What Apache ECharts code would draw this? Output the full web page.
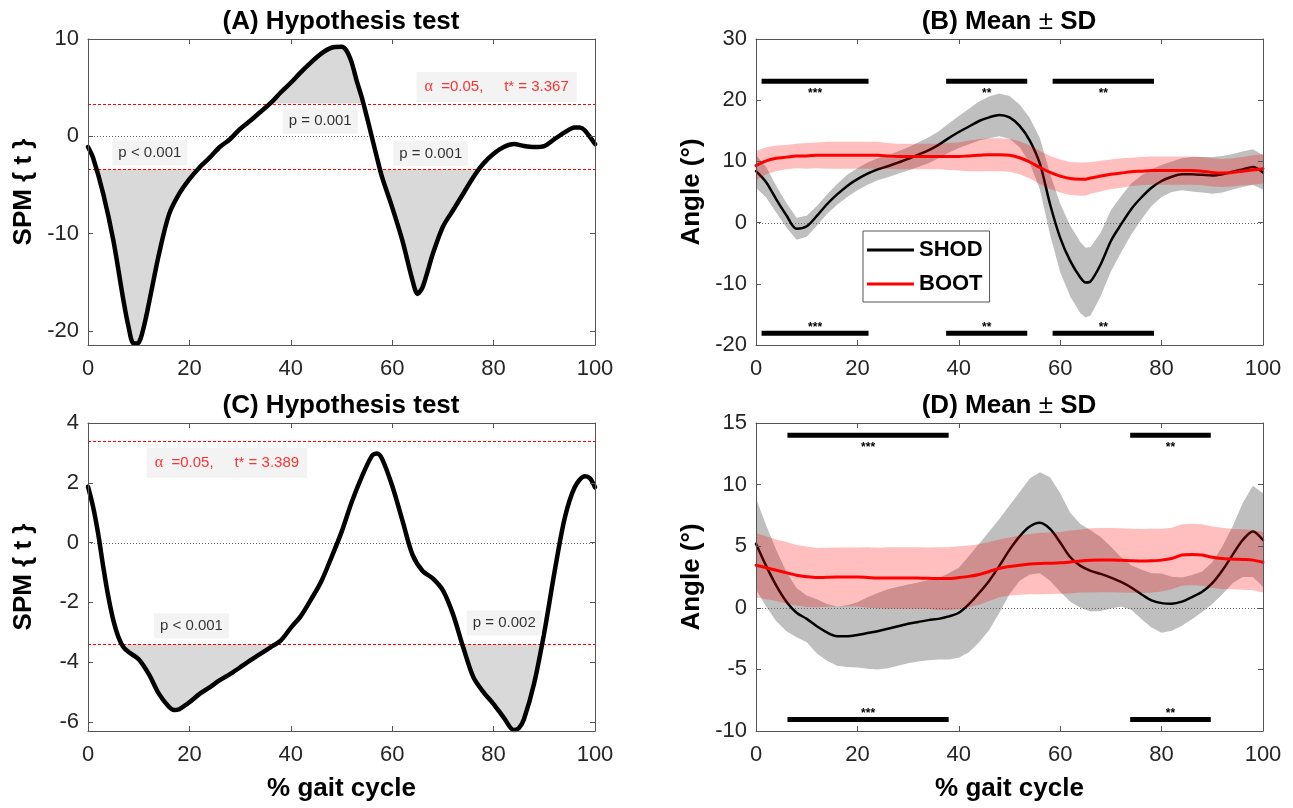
<!DOCTYPE html>
<html>
<head>
<meta charset="utf-8">
<title>SPM gait cycle</title>
<script src="https://cdn.jsdelivr.net/npm/echarts@6.0.0/dist/echarts.min.js"></script>
<style>
  html, body { margin: 0; padding: 0; background: #fff; }
  #chart { width: 1293px; height: 808px; }
</style>
</head>
<body>
<div id="chart"></div>
<script>
// ---------- data ----------
const xTicks = [0, 20, 40, 60, 80, 100];
const yTicksA = [-20, -10, 0, 10];
const yTicksB = [-20, -10, 0, 10, 20, 30];
const yTicksC = [-6, -4, -2, 0, 2, 4];
const yTicksD = [-10, -5, 0, 5, 10, 15];

// (A) SPM{t}
const xA = [0, 1, 3, 5, 7, 8, 9, 10, 11, 12, 14, 16, 18, 20, 22, 24, 26, 28, 30, 32, 34, 36, 38, 40, 42, 44, 46, 48, 50, 51,
  52, 53, 54, 55, 56, 57, 58, 60, 62, 64, 65, 66, 68, 70, 72, 74, 76, 78, 80, 82, 84, 86, 88, 90, 92, 94, 96, 97, 98, 100];
const spmA = [-1.1, -2.2, -5.9, -10.7, -16.9, -19.6, -21.3, -21.2, -19.6, -17.2, -12.1, -8.0, -5.9, -4.4, -3.2, -2.2, -1.1, -0.3, 0.75, 1.6,
  2.5, 3.4, 4.5, 5.5, 6.6, 7.6, 8.5, 9.1, 9.2, 8.8, 7.6, 5.7, 4.0, 2.0, -0.1, -2.2, -4.2, -7.3, -10.7, -14.8,
  -16.2, -15.5, -12.1, -9.3, -7.6, -5.9, -4.2, -2.8, -1.8, -1.1, -0.8, -1.0, -1.1, -1.0, -0.3, 0.4, 0.9, 0.9, 0.6, -0.8];
const tStarA = 3.367;

// (B) mean ± SD
const xB = [0, 2, 4, 6, 8, 10, 12, 14, 16, 18, 20, 22, 24, 26, 28, 30, 32, 34, 36, 38, 40, 42, 44, 46, 48, 50,
  52, 54, 56, 58, 60, 62, 64, 65, 66, 68, 70, 72, 74, 76, 78, 80, 82, 84, 86, 88, 90, 92, 94, 96, 98, 100];
const shodB = [8.4, 6.6, 3.8, 1.2, -1.0, -0.6, 1.1, 3.0, 4.6, 6.0, 7.1, 8.0, 8.7, 9.2, 9.8, 10.4, 11.1, 11.8, 12.7, 13.8, 14.8, 15.7, 16.6, 17.2, 17.6, 17.2,
  15.8, 13.4, 9.6, 3.0, -2.5, -6.3, -9.0, -9.8, -9.6, -6.8, -3.0, -0.3, 2.2, 4.1, 5.7, 6.8, 7.5, 7.9, 7.9, 7.8, 7.7, 7.9, 8.3, 8.7, 9.1, 8.2];
const shodSdB = [2.7, 2.5, 2.2, 2.0, 1.8, 1.7, 1.6, 1.6, 1.7, 1.8, 1.8, 1.8, 1.8, 1.8, 1.8, 1.9, 2.0, 2.1, 2.2, 2.4, 2.6, 2.9, 3.2, 3.4, 3.5, 3.5,
  3.5, 3.7, 4.2, 5.0, 5.6, 5.8, 5.8, 5.7, 5.6, 5.2, 5.0, 4.6, 4.2, 3.6, 3.0, 2.6, 2.5, 2.6, 2.8, 2.9, 3.0, 3.0, 2.9, 2.9, 2.9, 2.8];
const bootB = [9.3, 10.1, 10.5, 10.7, 10.9, 10.9, 11.0, 11.0, 11.0, 11.0, 11.0, 11.0, 11.0, 10.9, 10.8, 10.8, 10.8, 10.8, 10.8, 10.8, 10.8, 10.9, 11.0, 11.1, 11.1, 11.0,
  10.6, 9.9, 9.0, 8.2, 7.6, 7.2, 7.1, 7.1, 7.3, 7.6, 7.9, 8.1, 8.3, 8.4, 8.5, 8.5, 8.5, 8.5, 8.5, 8.4, 8.2, 8.1, 8.2, 8.4, 8.6, 8.8];
const bootSdB = [2.4, 2.2, 2.1, 2.0, 2.0, 2.1, 2.1, 2.2, 2.2, 2.2, 2.2, 2.2, 2.2, 2.1, 2.1, 2.1, 2.1, 2.1, 2.1, 2.2, 2.3, 2.5, 2.6, 2.7, 2.7, 2.7,
  2.7, 2.7, 2.7, 2.7, 2.7, 2.7, 2.7, 2.7, 2.6, 2.5, 2.4, 2.4, 2.3, 2.3, 2.3, 2.3, 2.3, 2.3, 2.3, 2.3, 2.3, 2.3, 2.3, 2.3, 2.4, 2.4];
const sigStartB = [1.1, 37.5, 58.5];
const sigEndB = [22.2, 53.5, 78.5];
const sigStarsB = ['***', '**', '**'];
const sigTopB = 23.1;
const sigBottomB = -18.1;

// (C) SPM{t}
const xC = [0, 1, 2, 3, 4, 5, 6, 7, 8, 10, 12, 14, 16, 17, 18, 20, 22, 24, 26, 28, 30, 32, 34, 36, 38, 40, 42, 44, 46, 48,
  50, 52, 54, 56, 57, 58, 60, 62, 64, 66, 68, 70, 72, 74, 76, 78, 80, 82, 84, 85, 86, 88, 90, 92, 94, 96, 98, 99, 100];
const spmC = [1.87, 1.2, 0.3, -0.8, -1.8, -2.6, -3.16, -3.5, -3.66, -3.9, -4.4, -5.06, -5.5, -5.6, -5.57, -5.34, -5.06, -4.84, -4.6, -4.4,
  -4.17, -3.94, -3.72, -3.5, -3.28, -2.85, -2.45, -1.9, -1.3, -0.5, 0.35, 1.35, 2.2, 2.9, 2.98, 2.8, 1.9, 0.75, -0.4, -0.95,
  -1.2, -1.6, -2.4, -3.5, -4.5, -5.0, -5.4, -5.85, -6.27, -6.2, -5.9, -4.7, -3.0, -1.0, 0.8, 1.85, 2.22, 2.15, 1.85];
const tStarC = 3.389;

// (D) mean ± SD
const xD = [0, 2, 4, 6, 8, 10, 12, 14, 16, 18, 20, 22, 24, 26, 28, 30, 32, 34, 36, 38, 40, 42, 44, 46, 48, 50,
  52, 54, 56, 58, 60, 62, 64, 66, 68, 70, 72, 74, 76, 78, 80, 82, 84, 86, 88, 90, 92, 94, 96, 98, 100];
const shodD = [5.2, 3.4, 1.8, 0.5, -0.4, -0.9, -1.5, -2.0, -2.3, -2.3, -2.2, -2.05, -1.9, -1.7, -1.5, -1.3, -1.15, -1.0, -0.9, -0.7, -0.4, 0.3, 1.2, 2.2, 3.4, 4.7,
  5.8, 6.6, 6.9, 6.4, 5.3, 4.1, 3.4, 3.0, 2.75, 2.45, 2.1, 1.65, 1.1, 0.6, 0.38, 0.33, 0.5, 0.87, 1.3, 2.0, 3.05, 4.3, 5.5, 6.2, 5.5];
const shodSdD = [3.7, 3.3, 2.9, 2.4, 2.0, 1.9, 2.2, 2.3, 2.4, 2.5, 2.65, 2.9, 3.1, 3.2, 3.2, 3.2, 3.2, 3.25, 3.3, 3.5, 3.65, 3.9, 4.0, 4.0, 3.8, 3.6,
  3.6, 3.9, 4.1, 4.2, 4.0, 3.6, 3.4, 3.3, 3.0, 2.5, 2.0, 1.8, 2.0, 2.2, 2.4, 2.2, 1.95, 1.8, 1.65, 1.7, 1.95, 2.3, 3.0, 3.7, 3.8];
const bootD = [3.46, 3.25, 3.05, 2.85, 2.64, 2.52, 2.45, 2.48, 2.5, 2.5, 2.5, 2.46, 2.42, 2.42, 2.42, 2.42, 2.41, 2.4, 2.37, 2.37, 2.45, 2.55, 2.7, 2.95, 3.2, 3.35,
  3.46, 3.55, 3.6, 3.62, 3.65, 3.72, 3.8, 3.85, 3.87, 3.87, 3.85, 3.82, 3.8, 3.82, 3.87, 4.0, 4.28, 4.33, 4.28, 4.1, 4.0, 3.95, 3.92, 3.87, 3.7];
const bootSdD = [2.6, 2.55, 2.5, 2.5, 2.45, 2.45, 2.4, 2.4, 2.4, 2.4, 2.4, 2.45, 2.45, 2.5, 2.5, 2.5, 2.5, 2.5, 2.55, 2.55, 2.55, 2.5, 2.45, 2.4, 2.35, 2.35,
  2.4, 2.45, 2.5, 2.5, 2.5, 2.55, 2.55, 2.6, 2.6, 2.6, 2.6, 2.6, 2.6, 2.6, 2.55, 2.5, 2.5, 2.5, 2.5, 2.5, 2.5, 2.45, 2.45, 2.45, 2.45];
const sigStartD = [6.2, 73.8];
const sigEndD = [38.0, 89.7];
const sigStarsD = ['***', '**'];
const sigTopD = 14.0;
const sigBottomD = -9.07;

// ---------- styling ----------
const FONT = '"Liberation Sans", Arial, sans-serif';
const AXIS = '#555555';
const TICK_TEXT = '#262626';

const grids = [
  { left: 88, top: 39, width: 507, height: 306 },
  { left: 756, top: 39, width: 507, height: 306 },
  { left: 88, top: 423, width: 507, height: 308 },
  { left: 756, top: 423, width: 507, height: 308 }
];
const yRange = [[-21.45, 10], [-20, 30], [-6.3, 4], [-10, 15]];
const yTicks = [yTicksA, yTicksB, yTicksC, yTicksD];
const yNames = ['SPM { t }', 'Angle (°)', 'SPM { t }', 'Angle (°)'];

const xAxes = [];
const yAxes = [];
for (let g = 0; g < 4; g++) {
  xAxes.push({
    type: 'value', gridIndex: g, min: 0, max: 100, position: 'bottom', z: 10,
    axisLine: { show: true, onZero: false, lineStyle: { color: AXIS, width: 1 } },
    axisTick: { inside: true, length: 5, customValues: xTicks, lineStyle: { color: AXIS } },
    axisLabel: { customValues: xTicks, margin: 13, fontSize: 22, color: TICK_TEXT, fontFamily: FONT },
    splitLine: { show: false },
    name: g >= 2 ? '% gait cycle' : '',
    nameLocation: 'middle', nameGap: 45,
    nameTextStyle: { fontSize: 26, fontWeight: 'bold', color: '#000', fontFamily: FONT }
  });
  yAxes.push({
    type: 'value', gridIndex: g, min: yRange[g][0], max: yRange[g][1], position: 'left', z: 10,
    axisLine: { show: true, onZero: false, lineStyle: { color: AXIS, width: 1 } },
    axisTick: { inside: true, length: 5, customValues: yTicks[g], lineStyle: { color: AXIS } },
    axisLabel: { customValues: yTicks[g], margin: 9, fontSize: 22, color: TICK_TEXT, fontFamily: FONT },
    splitLine: { show: false },
    name: yNames[g], nameLocation: 'middle', nameGap: 51,
    nameTextStyle: { fontSize: 26, fontWeight: 'bold', color: '#000', fontFamily: FONT }
  });
}
for (let g = 0; g < 4; g++) {
  xAxes.push({
    type: 'value', gridIndex: g, min: 0, max: 100, position: 'top', z: 10,
    axisLine: { show: true, onZero: false, lineStyle: { color: AXIS, width: 1 } },
    axisTick: { inside: true, length: 5, customValues: xTicks, lineStyle: { color: AXIS } },
    axisLabel: { show: false }, splitLine: { show: false }
  });
  yAxes.push({
    type: 'value', gridIndex: g, min: yRange[g][0], max: yRange[g][1], position: 'right', z: 10,
    axisLine: { show: true, onZero: false, lineStyle: { color: AXIS, width: 1 } },
    axisTick: { inside: true, length: 5, customValues: yTicks[g], lineStyle: { color: AXIS } },
    axisLabel: { show: false }, splitLine: { show: false }
  });
}

// ---------- series helpers ----------
const pairs = (xs, ys) => xs.map((x, i) => [x, ys[i]]);

function curve(g, name, xs, ys, color, width, z) {
  return {
    type: 'line', name, xAxisIndex: g, yAxisIndex: g, data: pairs(xs, ys),
    symbol: 'none', smooth: 0.3, z, silent: true, color,
    itemStyle: { color },
    lineStyle: { color, width, cap: 'round', join: 'round' }
  };
}

// horizontal reference lines (zero, +/- t*) across the whole panel
function guides(g, lines, z) {
  return {
    type: 'custom', xAxisIndex: g, yAxisIndex: g, z, silent: true,
    data: lines.map(l => [0, l[0]]), encode: { x: 0, y: 1 },
    renderItem: (params, api) => {
      const l = lines[params.dataIndex];
      const a = api.coord([0, l[0]]);
      const b = api.coord([100, l[0]]);
      const y = Math.round(a[1]) + 0.5;
      return {
        type: 'line',
        shape: { x1: a[0], y1: y, x2: b[0], y2: y },
        style: { stroke: l[1], lineWidth: 1, lineDash: l[2] }
      };
    }
  };
}

// mean ± sd band drawn as one polygon through the axes
function band(g, xs, mean, sd, color, z) {
  const upper = xs.map((x, i) => [x, mean[i] + sd[i]]);
  const lower = xs.map((x, i) => [x, mean[i] - sd[i]]).reverse();
  const pts = upper.concat(lower);
  return {
    type: 'custom', xAxisIndex: g, yAxisIndex: g, z, silent: true,
    data: [[xs[0], mean[0]]], encode: { x: 0, y: 1 },
    renderItem: (params, api) => ({
      type: 'polygon',
      shape: { points: pts.map(p => api.coord(p)) },
      style: { fill: color }
    })
  };
}

// parts of the curve beyond +/- threshold, closed along the threshold line
function clusters(xs, ys, thr, sign) {
  const out = [];
  let cur = null;
  for (let i = 0; i < xs.length; i++) {
    const v = sign * ys[i] - thr;
    if (v > 0) {
      if (!cur) {
        cur = [];
        if (i > 0) {
          const vp = sign * ys[i - 1] - thr;
          const t = vp / (vp - v);
          cur.push([xs[i - 1] + t * (xs[i] - xs[i - 1]), sign * thr]);
        } else {
          cur.push([xs[0], sign * thr]);
        }
      }
      cur.push([xs[i], ys[i]]);
    } else if (cur) {
      const vp = sign * ys[i - 1] - thr;
      const t = vp / (vp - v);
      cur.push([xs[i - 1] + t * (xs[i] - xs[i - 1]), sign * thr]);
      out.push(cur);
      cur = null;
    }
  }
  if (cur) {
    cur.push([xs[xs.length - 1], sign * thr]);
    out.push(cur);
  }
  return out;
}

function shade(g, xs, ys, thr) {
  const polys = clusters(xs, ys, thr, 1).concat(clusters(xs, ys, thr, -1));
  return {
    type: 'custom', xAxisIndex: g, yAxisIndex: g, z: 1, silent: true,
    data: polys.map((p, i) => [p[0][0], p[0][1], i]),
    encode: { x: 0, y: 1 },
    renderItem: (params, api) => ({
      type: 'polygon',
      shape: { points: polys[params.dataIndex].map(p => api.coord(p)) },
      style: { fill: '#d9d9d9' }
    })
  };
}

function sigBars(g, starts, ends, stars, yTop, yBottom) {
  const items = [];
  starts.forEach((s, i) => {
    items.push([s, yTop, ends[i], 1, i]);
    items.push([s, yBottom, ends[i], -1, i]);
  });
  return {
    type: 'custom', xAxisIndex: g, yAxisIndex: g, z: 8, silent: true,
    data: items, encode: { x: 0, y: 1 },
    renderItem: (params, api) => {
      const it = items[params.dataIndex];
      const p0 = api.coord([it[0], it[1]]);
      const p1 = api.coord([it[2], it[1]]);
      return {
        type: 'group',
        children: [
          { type: 'line', shape: { x1: p0[0], y1: p0[1], x2: p1[0], y2: p1[1] }, style: { stroke: '#000', lineWidth: 5 } },
          {
            type: 'text', x: (p0[0] + p1[0]) / 2, y: p0[1] + (it[3] > 0 ? 12 : -6),
            style: { text: stars[it[4]], fill: '#000', font: 'bold 12px ' + FONT, align: 'center', verticalAlign: 'middle' }
          }
        ]
      };
    }
  };
}

const boxLabel = {
  show: true, position: 'inside', fontSize: 15, color: '#000', fontFamily: FONT,
  backgroundColor: '#f0f0f0', padding: [5, 6]
};

function notes(g, items) {
  return {
    type: 'scatter', xAxisIndex: g, yAxisIndex: g, z: 9, silent: true, symbolSize: 0,
    data: items.map(it => ({
      value: [it[0], it[1]],
      label: Object.assign({}, boxLabel, it[3] ? {
        color: '#ff0000', padding: [7, 8],
        rich: { a: { fontFamily: '"Liberation Serif", serif', fontSize: 16, color: '#ff0000' } }
      } : {}, { formatter: it[2] })
    }))
  };
}

// ---------- series ----------
const DOT = [1, 2];
const DASH = [3, 2];
const series = [];
// (A)
series.push(shade(0, xA, spmA, tStarA));
series.push(guides(0, [[0, '#666666', DOT], [tStarA, '#ff0000', DASH], [-tStarA, '#ff0000', DASH]], 2));
series.push(curve(0, 'SPM A', xA, spmA, '#000', 4.5, 5));
series.push(notes(0, [
  [12.2, -1.7, 'p < 0.001'],
  [45.8, 1.54, 'p = 0.001'],
  [67.6, -1.78, 'p = 0.001'],
  [80.6, 5.07, '{a|α}  =0.05,     t* = ' + tStarA.toFixed(3), true]
]));
// (B)
series.push(band(1, xB, shodB, shodSdB, '#bfbfbf', 1));
series.push(guides(1, [[0, '#666666', DOT]], 2));
series.push(curve(1, 'SHOD', xB, shodB, '#000', 2.5, 3));
series.push(band(1, xB, bootB, bootSdB, 'rgba(255,0,0,0.25)', 4));
series.push(curve(1, 'BOOT', xB, bootB, '#ff0000', 3, 5));
series.push(sigBars(1, sigStartB, sigEndB, sigStarsB, sigTopB, sigBottomB));
// (C)
series.push(shade(2, xC, spmC, tStarC));
series.push(guides(2, [[0, '#666666', DOT], [tStarC, '#ff0000', DASH], [-tStarC, '#ff0000', DASH]], 2));
series.push(curve(2, 'SPM C', xC, spmC, '#000', 4.5, 5));
series.push(notes(2, [
  [20.4, -2.78, 'p < 0.001'],
  [82.1, -2.69, 'p = 0.002'],
  [27.4, 2.67, '{a|α}  =0.05,     t* = ' + tStarC.toFixed(3), true]
]));
// (D)
series.push(band(3, xD, shodD, shodSdD, '#bfbfbf', 1));
series.push(guides(3, [[0, '#666666', DOT]], 2));
series.push(curve(3, 'SHOD', xD, shodD, '#000', 2.5, 3));
series.push(band(3, xD, bootD, bootSdD, 'rgba(255,0,0,0.25)', 4));
series.push(curve(3, 'BOOT', xD, bootD, '#ff0000', 3, 5));
series.push(sigBars(3, sigStartD, sigEndD, sigStarsD, sigTopD, sigBottomD));

const titleStyle = { fontSize: 26, fontWeight: 'bold', color: '#000', fontFamily: FONT,
  rich: { pm: { fontSize: 26, fontWeight: 'normal', color: '#000', fontFamily: FONT } } };

const option = {
  animation: false,
  backgroundColor: '#fff',
  title: [
    { text: '(A) Hypothesis test', left: 341, top: 9, textAlign: 'center', padding: 0, textStyle: titleStyle },
    { text: '(B) Mean {pm|±} SD', left: 1009, top: 9, textAlign: 'center', padding: 0, textStyle: titleStyle },
    { text: '(C) Hypothesis test', left: 341, top: 393, textAlign: 'center', padding: 0, textStyle: titleStyle },
    { text: '(D) Mean {pm|±} SD', left: 1009, top: 393, textAlign: 'center', padding: 0, textStyle: titleStyle }
  ],
  legend: {
    data: ['SHOD', 'BOOT'], left: 863, top: 231, orient: 'vertical',
    icon: 'rect', itemWidth: 47, itemHeight: 3, itemGap: 12,
    padding: [8, 7, 7, 4], backgroundColor: '#fff', borderColor: AXIS, borderWidth: 1,
    selectedMode: false, z: 20,
    textStyle: { fontSize: 22, fontWeight: 'bold', color: '#000', fontFamily: FONT }
  },
  grid: grids,
  xAxis: xAxes,
  yAxis: yAxes,
  series
};

const chart = echarts.init(document.getElementById('chart'), null, { renderer: 'canvas' });
chart.setOption(option);
</script>
</body>
</html>
